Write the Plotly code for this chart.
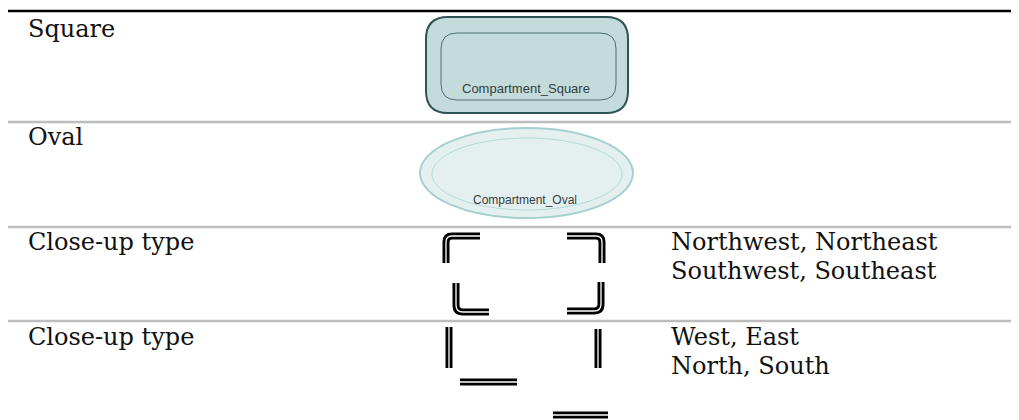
import plotly.graph_objects as go

# ---- data (text content) ----
row_labels = ["Square", "Oval", "Close-up type", "Close-up type"]
row_notes = [[], [], ["Northwest, Northeast", "Southwest, Southeast"], ["West, East", "North, South"]]
shape_labels = ["Compartment_Square", "Compartment_Oval"]

W, H = 1019, 420
OFF = 8  # page body margin
SERIF = "DejaVu Serif"
SANS = "Liberation Sans"

fig = go.Figure()
shapes = []
annotations = []

def rrect(x0, y0, x1, y1, r):
    return (f"M {x0+r},{y0} L {x1-r},{y0} Q {x1},{y0} {x1},{y0+r} "
            f"L {x1},{y1-r} Q {x1},{y1} {x1-r},{y1} L {x0+r},{y1} "
            f"Q {x0},{y1} {x0},{y1-r} L {x0},{y0+r} Q {x0},{y0} {x0+r},{y0} Z")

# table rules
shapes.append(dict(type="line", x0=5, x1=W + OFF, y0=11, y1=11, line=dict(color="black", width=2.5)))
for y in [122, 227, 321]:
    shapes.append(dict(type="line", x0=5, x1=W + OFF, y0=y, y1=y, line=dict(color="#bdbdbd", width=2.5)))

# row label text
row_y = [29, 137, 242, 337]
for lab, y in zip(row_labels, row_y):
    annotations.append(dict(x=26, y=y, text=lab, showarrow=False, xanchor="left", yanchor="middle",
                            font=dict(family=SERIF, size=24, color="#111")))
note_y = {2: [242, 271], 3: [337, 366]}
for i, notes in enumerate(row_notes):
    for t, y in zip(notes, note_y.get(i, [])):
        annotations.append(dict(x=669, y=y, text=t, showarrow=False, xanchor="left", yanchor="middle",
                                font=dict(family=SERIF, size=24, color="#111")))

# square compartment
shapes.append(dict(type="path", path=rrect(426, 17, 628, 113, 22), fillcolor="#c3dbdb",
                   line=dict(color="#2f5252", width=2)))
shapes.append(dict(type="path", path=rrect(441, 33, 616, 100, 16), fillcolor="rgba(0,0,0,0)",
                   line=dict(color="#4f6f6f", width=1)))
annotations.append(dict(x=526, y=88, text=shape_labels[0], showarrow=False, xanchor="center", yanchor="middle",
                        font=dict(family=SANS, size=13, color="#33403f")))

# oval compartment
shapes.append(dict(type="circle", x0=420, x1=633, y0=128, y1=218, fillcolor="#e4f0f0",
                   line=dict(color="#a6cfcf", width=2)))
shapes.append(dict(type="circle", x0=432, x1=622, y0=138, y1=210, fillcolor="rgba(0,0,0,0)",
                   line=dict(color="#b5d9d9", width=1)))
annotations.append(dict(x=525, y=200, text=shape_labels[1], showarrow=False, xanchor="center", yanchor="middle",
                        font=dict(family=SANS, size=12, color="#33403f")))

def dbl(path):
    shapes.append(dict(type="path", path=path, line=dict(color="black", width=7)))
    shapes.append(dict(type="path", path=path, line=dict(color="white", width=1.3)))

# close-up corners
dbl("M 480,236 L 452,236 Q 446,236 446,242 L 446,263")   # NW
dbl("M 567,236 L 596,236 Q 602,236 602,242 L 602,263")   # NE
dbl("M 456,283 L 456,305 Q 456,312 463,312 L 489,312")   # SW
dbl("M 601,282 L 601,304 Q 601,311 594,311 L 567,311")   # SE

# close-up sides
dbl("M 449,327 L 449,368")   # West
dbl("M 598,329 L 598,368")   # East
dbl("M 460,382 L 517,382")   # North
dbl("M 553,415 L 608,415")   # South

fig.update_layout(
    width=W, height=H, margin=dict(l=0, r=0, t=0, b=0),
    paper_bgcolor="white", plot_bgcolor="white",
    xaxis=dict(range=[OFF, W + OFF], visible=False, fixedrange=True),
    yaxis=dict(range=[H + OFF, OFF], visible=False, fixedrange=True),
    shapes=shapes, annotations=annotations, showlegend=False,
)
fig.write_html("out.html")
